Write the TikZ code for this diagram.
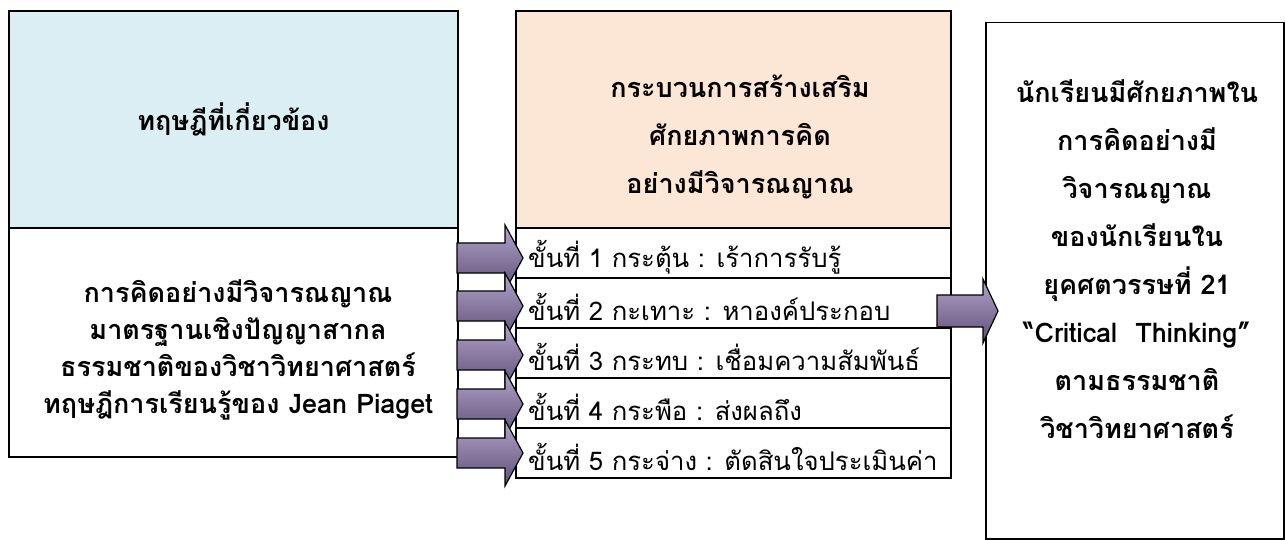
\documentclass[tikz,border=0pt]{standalone}
\usepackage{fontspec}
\setmainfont[Script=Thai]{Loma}
\definecolor{bluefill}{HTML}{DBEEF3}
\definecolor{orangefill}{HTML}{FCE6D6}
\definecolor{arrowtop}{HTML}{B2A4CA}
\definecolor{arrowbot}{HTML}{5F4F79}
\tikzset{
  box/.style={draw=black, line width=2pt, inner sep=0pt},
  headfont/.style={font=\bfseries\fontsize{27}{37}\selectfont},
  widefont/.style={font=\bfseries\fontsize{27}{48}\selectfont},
  rowfont/.style={font=\fontsize{25.7}{30}\selectfont},
  blockarrow/.style={draw=black, line width=1.2pt, top color=arrowtop, bottom color=arrowbot, line join=miter},
  pics/smallarrow/.style={code={
    \path[blockarrow] (0,-15) -- (48,-15) -- (48,-33) -- (66,0) -- (48,33) -- (48,15) -- (0,15) -- cycle;}},
  pics/bigarrow/.style={code={
    \path[blockarrow] (0,-16) -- (46,-16) -- (46,-32) -- (61,0) -- (46,32) -- (46,16) -- (0,16) -- cycle;}},
}
\begin{document}
\begin{tikzpicture}[x=1pt,y=-1pt]
\useasboundingbox (0,0) rectangle (1285,540);
\fill[white] (0,0) rectangle (1285,540);
% left box
\node[box, fill=bluefill, minimum width=449pt, minimum height=217pt, anchor=north west, headfont] (thead) at (8,10) {ทฤษฎีที่เกี่ยวข้อง};
\node[box, fill=white, minimum width=449pt, minimum height=229pt, anchor=north west] (tlow) at (8,227) {};
\node[headfont, align=center] (tlowtext) at (238,350) {การคิดอย่างมีวิจารณญาณ\\มาตรฐานเชิงปัญญาสากล\\ธรรมชาติของวิชาวิทยาศาสตร์\\ทฤษฎีการเรียนรู้ของ Jean Piaget};
% middle box
\node[box, fill=orangefill, minimum width=435pt, minimum height=217pt, anchor=north west] (phead) at (515,10) {};
\node[widefont, align=center] (pheadtext) at (740,137) {กระบวนการสร้างเสริม\\ศักยภาพการคิด\\อย่างมีวิจารณญาณ};
\foreach \i/\t in {1/{ขั้นที่ 1 กระตุ้น : เร้าการรับรู้},2/{ขั้นที่ 2 กะเทาะ : หาองค์ประกอบ},3/{ขั้นที่ 3 กระทบ : เชื่อมความสัมพันธ์},4/{ขั้นที่ 4 กระพือ : ส่งผลถึง},5/{ขั้นที่ 5 กระจ่าง : ตัดสินใจประเมินค่า}}{
  \node[box, fill=white, minimum width=435pt, minimum height=50pt, anchor=north west] (row\i) at (515,{227+50*(\i-1)}) {};
  \node[rowfont, anchor=west, inner sep=0pt] (rowtext\i) at ([xshift=13pt,yshift=-4pt]row\i.west) {\t};
}
% right box
\node[draw=black, line width=1.5pt, fill=white, minimum width=298pt, minimum height=516pt, anchor=north west] (result) at (985,22) {};
\node[widefont, align=center] (resulttext) at (1137,259) {นักเรียนมีศักยภาพใน\\การคิดอย่างมี\\วิจารณญาณ\\ของนักเรียนใน\\ยุคศตวรรษที่ 21\\“Critical\ \ Thinking”\\ตามธรรมชาติ\\วิชาวิทยาศาสตร์};
% arrows
\foreach \y in {258,306,355,404,453}{
  \pic at (457,\y) {smallarrow};
}
\pic at (937,311) {bigarrow};
\end{tikzpicture}
\end{document}
